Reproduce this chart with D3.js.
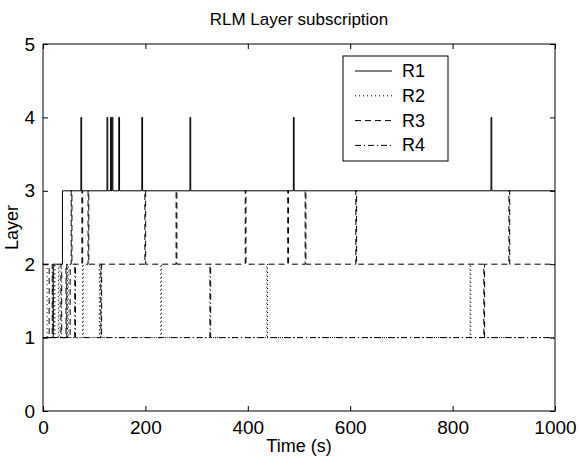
<!DOCTYPE html>
<html>
<head>
<meta charset="utf-8">
<script src="https://cdn.jsdelivr.net/npm/d3@7"></script>
<style>
  body { margin: 0; background: #fff; }
  svg text { font-family: "Liberation Sans", Arial, sans-serif; fill: #000; }
</style>
</head>
<body>
<div id="chart"></div>
<script>
// step change points [time (s), layer] for each receiver
const r1 = [[0,1],[20,2],[38,3],[74,4],[75.5,3],[125,4],[126.5,3],[132,4],[133.5,3],[135,4],[136.5,3],
  [148,4],[149.5,3],[193,4],[194.5,3],[287,4],[288.5,3],[489,4],[490.5,3],[875,4],[876.5,3],[1000,3]];
const r2 = [[0,2],[8,1],[22,2],[23.5,1],[30,2],[31.5,1],[48,2],[49.5,1],[77,2],[78.5,1],[110,2],[111.5,1],
  [230,2],[231.5,1],[437,2],[438.5,1],[834,2],[835.5,1],[1000,1]];
const r3 = [[0,2],[12,1],[45,2],[46.5,1],[53,2],[55,3],[56.5,2],[76,3],[77.5,2],[88,3],[89.5,2],[199,3],[200.5,2],
  [260,3],[261.5,2],[395,3],[396.5,2],[478,3],[479.5,2],[512,3],[513.5,2],[611,3],[612.5,2],[861,1],[862.5,2],
  [910,3],[911.5,2],[1000,2]];
const r4 = [[0,1],[18,2],[19.5,1],[35,2],[36.5,1],[62,2],[63.5,1],[113,2],[114.5,1],[326,2],[327.5,1],[1000,1]];

const seriesNames = ["R1", "R2", "R3", "R4"];
const xTicks = [0, 200, 400, 600, 800, 1000];
const yTicks = [0, 1, 2, 3, 4, 5];

const width = 580, height = 466;
const margin = {top: 44, right: 25, bottom: 55, left: 43};
const dashes = [null, "1,3", "6,4", "6,3,1,3"];

const svg = d3.select("#chart").append("svg")
  .attr("width", width)
  .attr("height", height);

const x = d3.scaleLinear().domain([0, 1000]).range([margin.left, width - margin.right]);
const y = d3.scaleLinear().domain([0, 5]).range([height - margin.bottom, margin.top]);

const line = d3.line()
  .x(d => x(d[0]))
  .y(d => y(d[1]))
  .curve(d3.curveStepAfter);

svg.append("g")
  .attr("class", "series")
  .selectAll("path")
  .data([r1, r2, r3, r4])
  .enter().append("path")
  .attr("d", line)
  .attr("fill", "none")
  .attr("stroke", "#000")
  .attr("stroke-width", 1)
  .attr("stroke-dasharray", (d, i) => dashes[i]);

// axes, ticks inside on all four sides
const tickLen = 5;
svg.append("g")
  .attr("transform", "translate(0," + y(0) + ")")
  .call(d3.axisBottom(x).tickValues(xTicks).tickFormat(d3.format("d"))
    .tickSizeInner(-tickLen).tickSizeOuter(0).tickPadding(10))
  .call(g => g.select(".domain").remove())
  .selectAll("text").style("font-size", "19px");

svg.append("g")
  .attr("transform", "translate(0," + y(5) + ")")
  .call(d3.axisTop(x).tickValues(xTicks).tickSizeInner(-tickLen).tickSizeOuter(0).tickFormat(""))
  .call(g => g.select(".domain").remove());

svg.append("g")
  .attr("transform", "translate(" + x(0) + ",0)")
  .call(d3.axisLeft(y).tickValues(yTicks).tickFormat(d3.format("d"))
    .tickSizeInner(-tickLen).tickSizeOuter(0).tickPadding(8))
  .call(g => g.select(".domain").remove())
  .selectAll("text").style("font-size", "19px");

svg.append("g")
  .attr("transform", "translate(" + x(1000) + ",0)")
  .call(d3.axisRight(y).tickValues(yTicks).tickSizeInner(-tickLen).tickSizeOuter(0).tickFormat(""))
  .call(g => g.select(".domain").remove());

svg.append("rect")
  .attr("x", x(0)).attr("y", y(5))
  .attr("width", x(1000) - x(0)).attr("height", y(0) - y(5))
  .attr("fill", "none").attr("stroke", "#000").attr("stroke-width", 1);

svg.append("text")
  .attr("x", (x(0) + x(1000)) / 2).attr("y", 25)
  .attr("text-anchor", "middle")
  .style("font-size", "17px")
  .text("RLM Layer subscription");

svg.append("text")
  .attr("x", (x(0) + x(1000)) / 2).attr("y", 452)
  .attr("text-anchor", "middle")
  .style("font-size", "18px")
  .text("Time (s)");

svg.append("text")
  .attr("transform", "translate(18," + (y(0) + y(5)) / 2 + ") rotate(-90)")
  .attr("text-anchor", "middle")
  .style("font-size", "18px")
  .text("Layer");

// legend
const legend = svg.append("g").attr("transform", "translate(343,56)");
legend.append("rect")
  .attr("width", 105).attr("height", 105)
  .attr("fill", "#fff").attr("stroke", "#000").attr("stroke-width", 1);

const item = legend.selectAll("g.item")
  .data(seriesNames)
  .enter().append("g")
  .attr("class", "item")
  .attr("transform", (d, i) => "translate(0," + (15 + i * 24.8) + ")");

item.append("line")
  .attr("x1", 12).attr("x2", 49)
  .attr("stroke", "#000").attr("stroke-width", 1)
  .attr("stroke-dasharray", (d, i) => dashes[i]);

item.append("text")
  .attr("x", 59).attr("y", 6)
  .style("font-size", "18px")
  .text(d => d);
</script>
</body>
</html>
